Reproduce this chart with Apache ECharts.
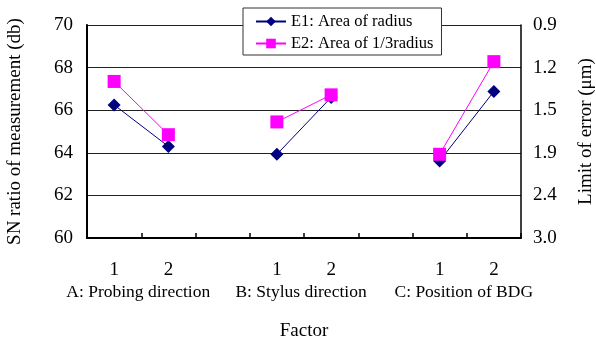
<!DOCTYPE html>
<html><head><meta charset="utf-8">
<script src="https://cdn.jsdelivr.net/npm/echarts@6/dist/echarts.min.js"></script>
<style>html,body{margin:0;padding:0;background:#fff}#c{width:596px;height:343px}</style>
</head><body><div id="c"></div>
<script>
var categories = ['1','2','','1','2','','1','2'];
var groupLabels = ['A: Probing direction','B: Stylus direction','C: Position of BDG'];
var groupMembers = [[0, 1], [3, 4], [6, 7]];
var e1Values = [66.25, 64.3, null, 63.93, 66.6, null, 63.62, 66.88];
var e2Values = [67.35, 64.85, null, 65.45, 66.72, null, 63.93, 68.28];
var leftTicks = [60, 62, 64, 66, 68, 70];
var rightLabels = ['3.0','2.4','1.9','1.5','1.2','0.9'];
var FONT = '"Liberation Serif", "Times New Roman", serif';

var chart = echarts.init(document.getElementById('c'));
var option = {
  animation: false,
  backgroundColor: '#fff',
  textStyle: {fontFamily: FONT, color: '#000'},
  grid: {left: 87, right: 75, top: 25, bottom: 105, containLabel: false, outerBoundsMode: 'none'},
  legend: {
    orient: 'vertical', left: 243, top: 8, width: 204, height: 49,
    padding: [5, 8, 3, 12], itemGap: 5, itemWidth: 30, itemHeight: 12,
    backgroundColor: '#fff', borderColor: '#333', borderWidth: 1,
    textStyle: {fontFamily: FONT, fontSize: 16.5, color: '#000'},
    data: ['E1: Area of radius', 'E2: Area of 1/3radius']
  },
  xAxis: {
    type: 'category', data: categories, boundaryGap: true,
    name: 'Factor', nameLocation: 'middle', nameGap: 84,
    nameTextStyle: {fontFamily: FONT, fontSize: 19, color: '#000'},
    axisLine: {lineStyle: {color: '#000', width: 2}},
    axisTick: {show: true, inside: true, length: 5, lineStyle: {color: '#000', width: 1.5}},
    axisLabel: {fontFamily: FONT, fontSize: 19, color: '#000', margin: 23, interval: 0}
  },
  yAxis: [{
    type: 'value', min: 60, max: 70, interval: 2, position: 'left',
    name: 'SN ratio of measurement (db)', nameLocation: 'middle', nameGap: 62,
    nameTextStyle: {fontFamily: FONT, fontSize: 19, color: '#000'},
    axisLine: {show: true, lineStyle: {color: '#000', width: 2}},
    axisTick: {show: false},
    axisLabel: {fontFamily: FONT, fontSize: 19, color: '#000', margin: 14},
    splitLine: {show: true, lineStyle: {color: '#222', width: 1}}
  }, {
    type: 'value', min: 60, max: 70, interval: 2, position: 'right',
    name: 'Limit of error (μm)', nameLocation: 'middle', nameGap: 56, nameRotate: 90,
    nameTextStyle: {fontFamily: FONT, fontSize: 19, color: '#000'},
    axisLine: {show: true, lineStyle: {color: '#000', width: 1.5}},
    axisTick: {show: false},
    axisLabel: {fontFamily: FONT, fontSize: 19, color: '#000', margin: 12,
      formatter: function (v) { return rightLabels[leftTicks.indexOf(v)]; }},
    splitLine: {show: false}
  }],
  series: [{
    name: 'E1: Area of radius', type: 'line', data: e1Values, connectNulls: false,
    symbol: 'diamond', symbolSize: 13, z: 3,
    itemStyle: {color: '#000080'}, lineStyle: {color: '#000080', width: 1}
  }, {
    name: 'E2: Area of 1/3radius', type: 'line', data: e2Values, connectNulls: false,
    symbol: 'rect', symbolSize: 13, z: 4,
    itemStyle: {color: '#FF00FF'}, lineStyle: {color: '#FF00FF', width: 1}
  }]
};
chart.setOption(option);
var yLabel = chart.convertToPixel({yAxisIndex: 0}, 60) + 54;
var g = groupLabels.map(function (t, i) {
  var x0 = chart.convertToPixel({xAxisIndex: 0}, groupMembers[i][0]);
  var x1 = chart.convertToPixel({xAxisIndex: 0}, groupMembers[i][1]);
  return {type: 'text', x: (x0 + x1) / 2 - 3, y: yLabel, style: {text: t, fontFamily: FONT, fontSize: 17.5, fill: '#000', align: 'center', verticalAlign: 'middle'}};
});
chart.setOption({graphic: g});
</script></body></html>
